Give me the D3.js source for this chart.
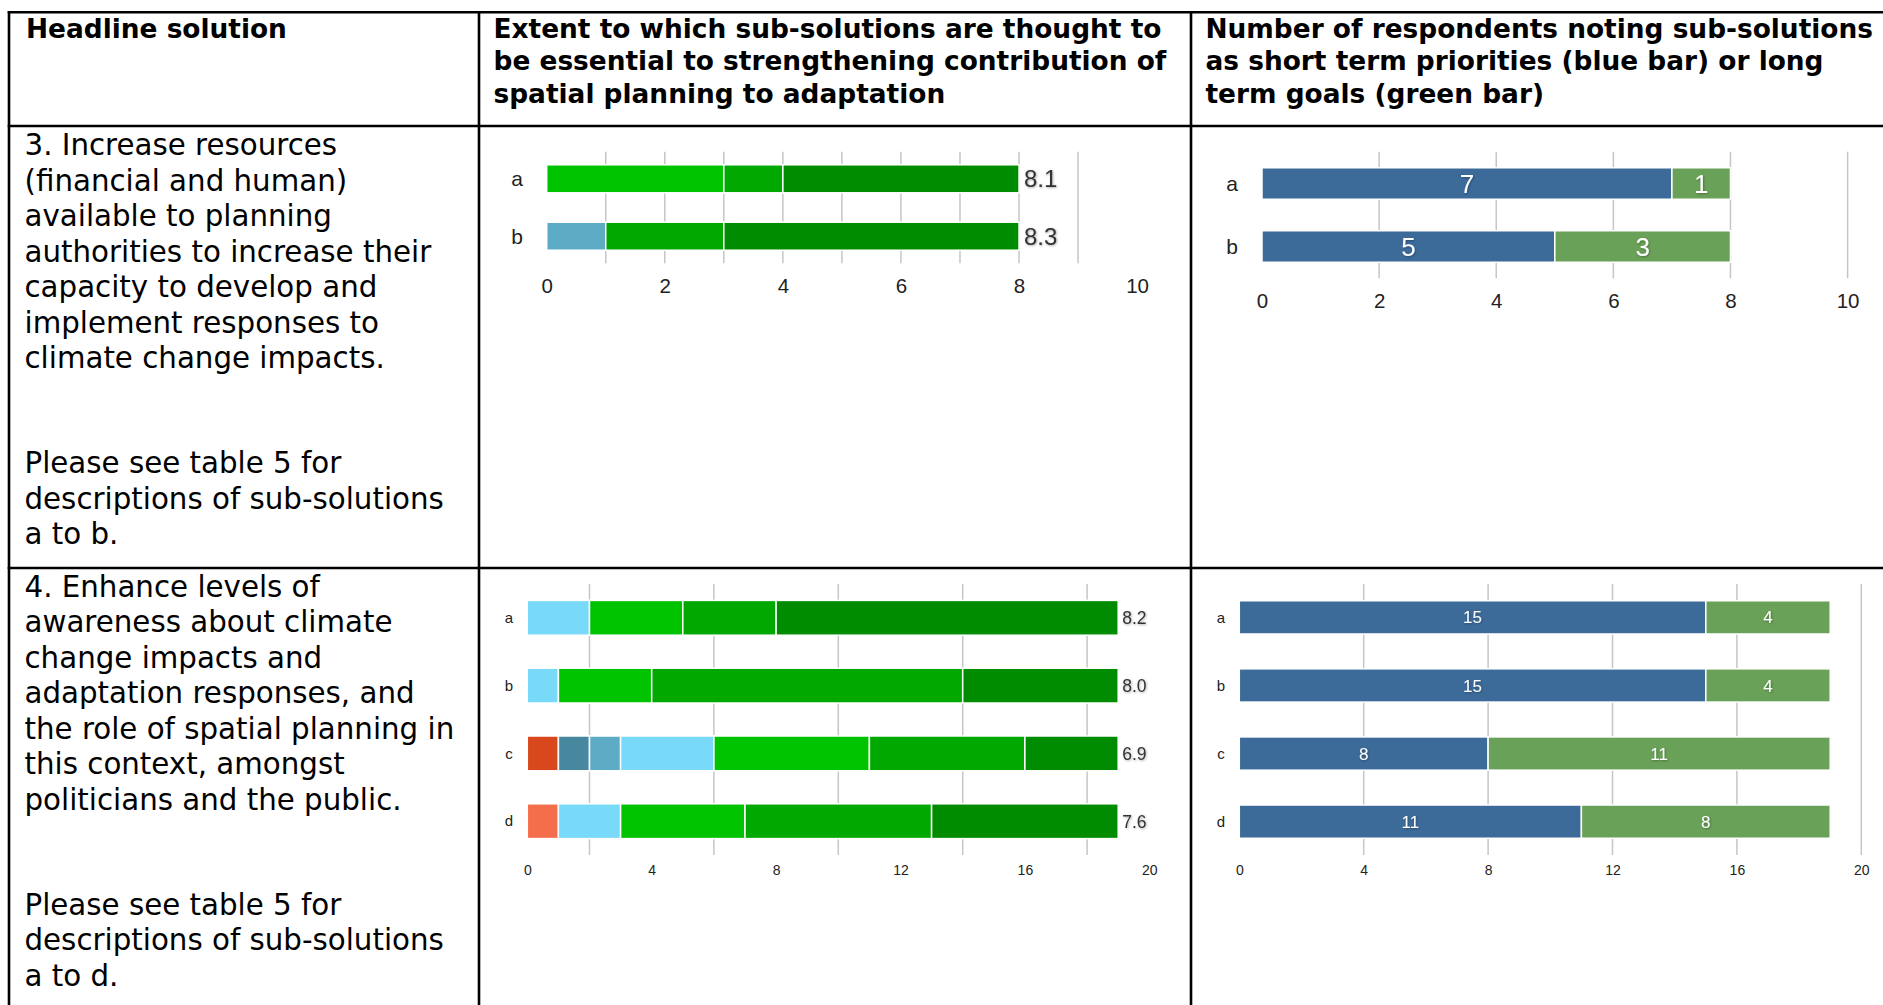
<!DOCTYPE html>
<html>
<head>
<meta charset="utf-8">
<script src="https://cdn.jsdelivr.net/npm/d3@7"></script>
<style>
  html, body { margin: 0; padding: 0; background: #fff; }
  svg { display: block; }
</style>
</head>
<body>
<svg id="chart" width="1883" height="1005"></svg>
<script>
// Rating scale: score given by respondents and the colour used for it
const scoreLevels = [2, 3, 4, 5, 6, 7, 8, 9];
const scoreColors = ["#d9481c", "#f56e4c", "#47889e", "#5eabc6", "#78d9f8", "#00c300", "#00a800", "#008c00"];

// Headline solution 3: respondents per score for each sub-solution
const subs3 = ["a", "b"];
const ratings3 = [
  [0, 0, 0, 0, 0, 3, 1, 4],
  [0, 0, 0, 1, 0, 0, 2, 5]
];
const shortTerm3 = [7, 5];
const longTerm3 = [1, 3];

// Headline solution 4: respondents per score for each sub-solution
const subs4 = ["a", "b", "c", "d"];
const ratings4 = [
  [0, 0, 0, 0, 2, 3, 3, 11],
  [0, 0, 0, 0, 1, 3, 10, 5],
  [1, 0, 1, 1, 3, 5, 5, 3],
  [0, 1, 0, 0, 2, 4, 6, 6]
];
const shortTerm4 = [15, 15, 8, 11];
const longTerm4 = [4, 4, 11, 8];

// Short term priority (blue) / long term goal (green)
const termColors = ["#3c6b9a", "#6aa158"];

// Axis tick labels and gridline positions
const ticks3Rating = [0, 2, 4, 6, 8, 10];
const grid3Rating = [1, 2, 3, 4, 5, 6, 7, 8, 9];
const ticks3Term = [0, 2, 4, 6, 8, 10];
const grid3Term = [2, 4, 6, 8, 10];
const ticks4Rating = [0, 4, 8, 12, 16, 20];
const grid4Rating = [2, 6, 10, 14, 18];
const ticks4Term = [0, 4, 8, 12, 16, 20];
const grid4Term = [4, 8, 12, 16, 20];

// Table texts
const headerCol1 = ["Headline solution"];
const headerCol2 = ["Extent to which sub-solutions are thought to",
                    "be essential to strengthening contribution of",
                    "spatial planning to adaptation"];
const headerCol3 = ["Number of respondents noting sub-solutions",
                    "as short term priorities (blue bar) or long",
                    "term goals (green bar)"];
const solution3Text = ["3. Increase resources", "(financial and human)", "available to planning",
                       "authorities to increase their", "capacity to develop and",
                       "implement responses to", "climate change impacts."];
const solution3Note = ["Please see table 5 for", "descriptions of sub-solutions", "a to b."];
const solution4Text = ["4. Enhance levels of", "awareness about climate", "change impacts and",
                       "adaptation responses, and", "the role of spatial planning in",
                       "this context, amongst", "politicians and the public."];
const solution4Note = ["Please see table 5 for", "descriptions of sub-solutions", "a to d."];

const FONT_TABLE = "'DejaVu Sans', Verdana, sans-serif";
const FONT_CHART = "'Liberation Sans', Arial, Helvetica, sans-serif";

const svg = d3.select("#chart");
svg.append("rect").attr("width", 1883).attr("height", 1005).attr("fill", "#fff");

const defs = svg.append("defs");
const shadow = defs.append("filter").attr("id", "txtShadow")
  .attr("x", "-30%").attr("y", "-30%").attr("width", "160%").attr("height", "160%");
shadow.append("feDropShadow").attr("dx", 0.8).attr("dy", 0.8).attr("stdDeviation", 1.1)
  .attr("flood-color", "#000").attr("flood-opacity", 0.35);

// ---------- table grid ----------
const border = svg.append("g").attr("stroke", "#000").attr("stroke-width", 2.6);
const tbl = { left: 9, right: 1890, top: 12.3, head: 126, row3: 568, bottom: 1010, col2: 479, col3: 1191 };
[tbl.top, tbl.head, tbl.row3].forEach(yv =>
  border.append("line").attr("x1", tbl.left - 1.3).attr("x2", tbl.right).attr("y1", yv).attr("y2", yv));
[tbl.left, tbl.col2, tbl.col3].forEach(xv =>
  border.append("line").attr("x1", xv).attr("x2", xv).attr("y1", tbl.top - 1.3).attr("y2", tbl.bottom));

// ---------- table text ----------
function textBlock(lines, x, y0, lh, size, weight) {
  const t = svg.append("text")
    .attr("font-family", FONT_TABLE).attr("font-size", size)
    .attr("font-weight", weight).attr("fill", "#000");
  lines.forEach((s, i) => t.append("tspan").attr("x", x).attr("y", y0 + i * lh).text(s));
}
const headSize = 26.4, headLH = 32.4, headY = 38;
textBlock(headerCol1, 26, headY, headLH, headSize, "bold");
textBlock(headerCol2, 493.5, headY, headLH, headSize, "bold");
textBlock(headerCol3, 1205.5, headY, headLH, headSize, "bold");

const bodySize = 29.3, bodyLH = 35.55, noteGap = 318;
textBlock(solution3Text, 24.5, 155, bodyLH, bodySize, "normal");
textBlock(solution3Note, 24.5, 155 + noteGap, bodyLH, bodySize, "normal");
textBlock(solution4Text, 24.5, 596.7, bodyLH, bodySize, "normal");
textBlock(solution4Note, 24.5, 596.7 + noteGap, bodyLH, bodySize, "normal");

// ---------- chart panels ----------
function panelFrame(subs, ticks, grid, L) {
  const g = svg.append("g");
  const x = d3.scaleLinear().domain([0, L.max]).range([L.x0, L.x1]);
  const y = d3.scaleBand().domain(subs).range([L.top, L.bottom])
    .paddingInner(L.pi).paddingOuter(L.po);

  g.append("g").selectAll("line").data(grid).join("line")
    .attr("x1", d => x(d)).attr("x2", d => x(d))
    .attr("y1", L.top).attr("y2", L.bottom)
    .attr("stroke", "#c6c6c6").attr("stroke-width", 1.5);

  const axis = d3.axisBottom(x).tickValues(ticks).tickSize(0).tickPadding(0)
    .tickFormat(d3.format("d"));
  const ax = g.append("g")
    .attr("transform", `translate(0,${L.tickBase - 0.71 * L.tickSize})`)
    .call(axis);
  ax.select(".domain").remove();
  ax.selectAll("text").attr("font-family", FONT_CHART).attr("font-size", L.tickSize).attr("fill", "#222");

  g.append("g").selectAll("text").data(subs).join("text")
    .attr("x", L.catX).attr("y", d => y(d) + y.bandwidth() / 2).attr("dy", "0.35em")
    .attr("text-anchor", "middle")
    .attr("font-family", FONT_CHART).attr("font-size", L.catSize).attr("fill", "#222")
    .text(d => d);
  return { g, x, y };
}

function ratingPanel(subs, ratings, ticks, grid, L) {
  const { g, x, y } = panelFrame(subs, ticks, grid, L);
  const rows = subs.map((s, i) => {
    const o = { sub: s };
    scoreLevels.forEach((k, j) => { o[k] = ratings[i][j]; });
    return o;
  });
  const series = d3.stack().keys(scoreLevels)(rows);
  const bars = g.append("g");
  series.forEach((ser, j) => {
    bars.selectAll(null).data(ser.filter(d => d[1] > d[0])).join("rect")
      .attr("x", d => x(d[0])).attr("width", d => x(d[1]) - x(d[0]))
      .attr("y", d => y(d.data.sub)).attr("height", y.bandwidth())
      .attr("fill", scoreColors[j])
      .attr("stroke", "#fff").attr("stroke-width", 1.5);
  });
  // mean score of each sub-solution, written at the end of its bar
  const stats = subs.map((s, i) => {
    const n = d3.sum(ratings[i]);
    const mean = d3.sum(ratings[i], (c, j) => c * scoreLevels[j]) / n;
    return { sub: s, n, mean };
  });
  g.append("g").selectAll("text").data(stats).join("text")
    .attr("x", d => x(d.n) + L.valGap).attr("y", d => y(d.sub) + y.bandwidth() / 2).attr("dy", "0.36em")
    .attr("font-family", FONT_CHART).attr("font-size", L.valSize).attr("fill", "#333")
    .attr("filter", "url(#txtShadow)")
    .text(d => d3.format(".1f")(d.mean));
}

function termPanel(subs, shortT, longT, ticks, grid, L) {
  const { g, x, y } = panelFrame(subs, ticks, grid, L);
  const rows = subs.map((s, i) => ({ sub: s, shortTerm: shortT[i], longTerm: longT[i] }));
  const series = d3.stack().keys(["shortTerm", "longTerm"])(rows);
  series.forEach((ser, j) => {
    const sg = g.append("g");
    sg.selectAll("rect").data(ser).join("rect")
      .attr("x", d => x(d[0])).attr("width", d => x(d[1]) - x(d[0]))
      .attr("y", d => y(d.data.sub)).attr("height", y.bandwidth())
      .attr("fill", termColors[j])
      .attr("stroke", "#fff").attr("stroke-width", 1.5);
    sg.selectAll("text").data(ser).join("text")
      .attr("x", d => (x(d[0]) + x(d[1])) / 2).attr("y", d => y(d.data.sub) + y.bandwidth() / 2)
      .attr("dy", "0.36em").attr("text-anchor", "middle")
      .attr("font-family", FONT_CHART).attr("font-size", L.valSize).attr("fill", "#fff")
      .attr("filter", "url(#txtShadow)")
      .text(d => d[1] - d[0]);
  });
}

ratingPanel(subs3, ratings3, ticks3Rating, grid3Rating, {
  max: 10, x0: 546.7, x1: 1137.1, top: 151.7, bottom: 263.3, pi: 0.512, po: 0.228,
  catX: 517, catSize: 21, tickBase: 293.3, tickSize: 20.5, valSize: 24, valGap: 5
});
termPanel(subs3, shortTerm3, longTerm3, ticks3Term, grid3Term, {
  max: 10, x0: 1262, x1: 1847.6, top: 151.7, bottom: 278.3, pi: 0.5, po: 0.255,
  catX: 1232, catSize: 21, tickBase: 308, tickSize: 20.5, valSize: 26
});
ratingPanel(subs4, ratings4, ticks4Rating, grid4Rating, {
  max: 20, x0: 527.3, x1: 1149.3, top: 584, bottom: 855, pi: 0.487, po: 0.242,
  catX: 509, catSize: 15, tickBase: 875, tickSize: 14, valSize: 17.5, valGap: 4
});
termPanel(subs4, shortTerm4, longTerm4, ticks4Term, grid4Term, {
  max: 20, x0: 1239.3, x1: 1861.3, top: 584, bottom: 855, pi: 0.512, po: 0.246,
  catX: 1221, catSize: 15, tickBase: 875, tickSize: 14, valSize: 17
});
</script>
</body>
</html>
